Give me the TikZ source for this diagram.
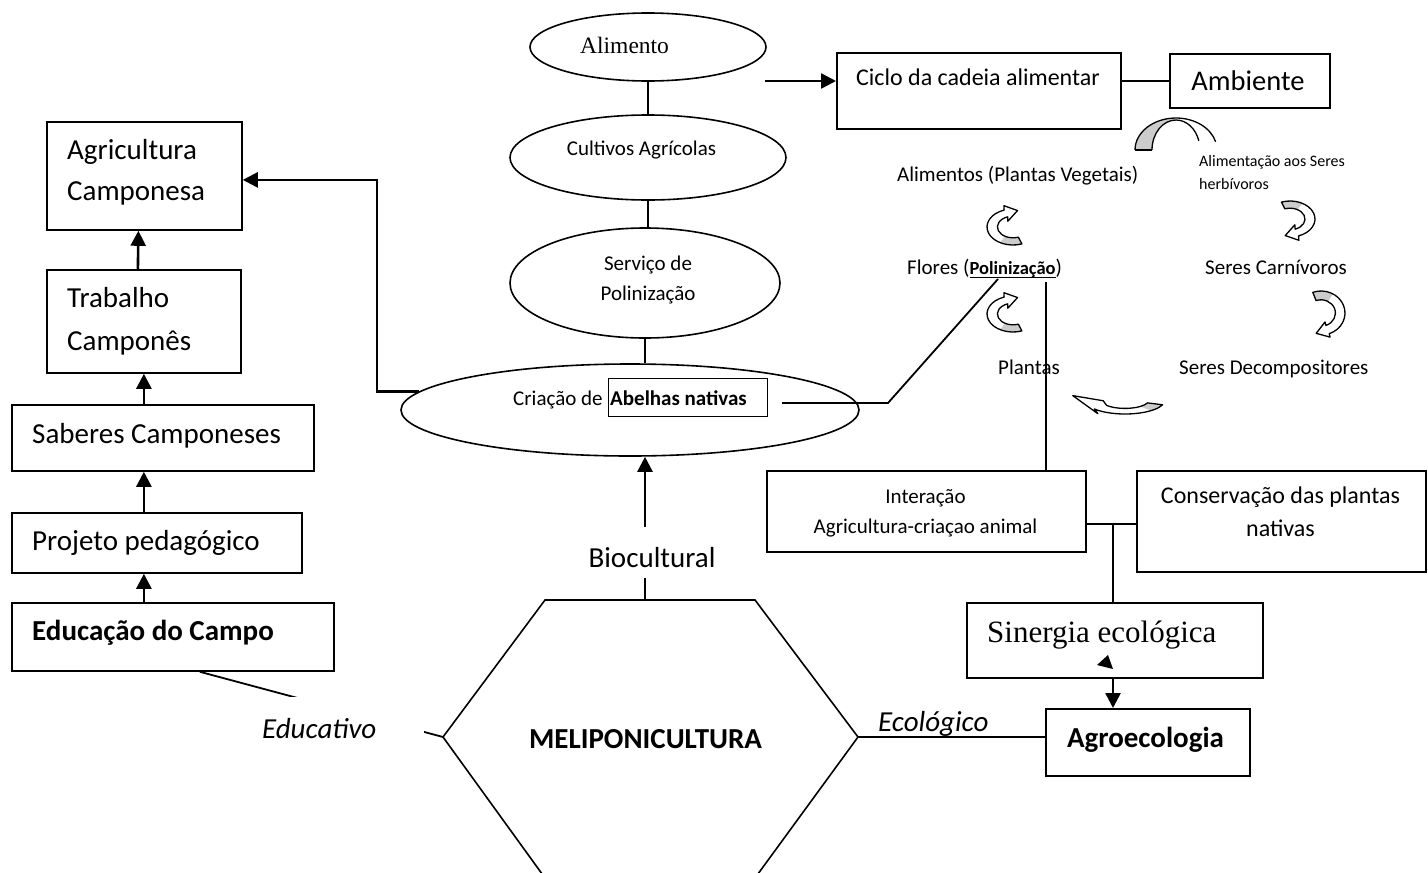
\documentclass[tikz,border=0pt]{standalone}
\usepackage{fontspec}
\setmainfont{Carlito}
\newfontfamily\tnr{Liberation Serif}
\usetikzlibrary{arrows.meta,shapes.geometric,calc}
\newcommand\fsz[2]{\fontsize{#1}{#2}\selectfont}
\newcommand\ulbox[1]{\setbox0\hbox{#1}\rlap{\rule[-4pt]{\wd0}{1.2pt}}\box0}
\colorlet{bandgray}{gray!40}
% curved ribbon arrow: cx cy rx ry a0 a1 grayEnd headLength headHalfWidth
\newcommand\curvarr[9]{%
 \pgfmathsetmacro\cvcA{cos(#6)}%
 \pgfmathsetmacro\cvsA{sin(#6)}%
 \pgfmathsetmacro\cvirx{0.6*#3}%
 \pgfmathsetmacro\cviry{0.6*#4}%
 \pgfmathsetmacro\cvtx{-#3*(\cvsA)}%
 \pgfmathsetmacro\cvty{#4*(\cvcA)}%
 \pgfmathsetmacro\cvtn{sqrt((\cvtx)*(\cvtx)+(\cvty)*(\cvty))}%
 \pgfmathsetmacro\cvnx{#4*(\cvcA)}%
 \pgfmathsetmacro\cvny{#3*(\cvsA)}%
 \pgfmathsetmacro\cvnn{sqrt((\cvnx)*(\cvnx)+(\cvny)*(\cvny))}%
 \pgfmathsetmacro\cvMx{#1+0.8*#3*(\cvcA)}%
 \pgfmathsetmacro\cvMy{#2+0.8*#4*(\cvsA)}%
 \pgfmathsetmacro\cvOx{\cvMx+#9*(\cvnx)/\cvnn}%
 \pgfmathsetmacro\cvOy{\cvMy+#9*(\cvny)/\cvnn}%
 \pgfmathsetmacro\cvIx{\cvMx-#9*(\cvnx)/\cvnn}%
 \pgfmathsetmacro\cvIy{\cvMy-#9*(\cvny)/\cvnn}%
 \pgfmathsetmacro\cvTx{\cvMx+#8*(\cvtx)/\cvtn}%
 \pgfmathsetmacro\cvTy{\cvMy+#8*(\cvty)/\cvtn}%
 \def\cvoutline{({#1+#3*cos(#5)},{#2+#4*sin(#5)}) arc[start angle=#5,end angle=#6,x radius=#3,y radius=#4] -- (\cvOx,\cvOy) -- (\cvTx,\cvTy) -- (\cvIx,\cvIy) -- ({#1+\cvirx*(\cvcA)},{#2+\cviry*(\cvsA)}) arc[start angle=#6,end angle=#5,x radius=\cvirx,y radius=\cviry] -- cycle}%
 \fill[white] \cvoutline;
 \fill[bandgray] ({#1+#3*cos(#5)},{#2+#4*sin(#5)}) arc[start angle=#5,end angle=#7,x radius=#3,y radius=#4] -- ({#1+\cvirx*cos(#7)},{#2+\cviry*sin(#7)}) arc[start angle=#7,end angle=#5,x radius=\cvirx,y radius=\cviry] -- cycle;
 \draw[line width=1.3pt,line join=round] \cvoutline;
}
\tikzset{
 box/.style={draw, line width=1.8pt, inner sep=0pt, anchor=north west},
 ell/.style={draw, ellipse, line width=1.6pt, inner sep=0pt},
 txt/.style={inner sep=0pt},
 conn/.style={line width=1.8pt},
 arr/.style={line width=2.6pt, -{Triangle[width=15pt,length=15pt]}},
}
\begin{document}
\begin{tikzpicture}[x=1pt,y=-1pt]
\useasboundingbox (0,0) rectangle (1428,873);

% ---------- left column ----------
\node[box, minimum width=195, minimum height=108] (agri) at (46,121) {};
\node[box, minimum width=194, minimum height=103] (trab) at (46,269) {};
\node[box, minimum width=302, minimum height=66] (saber) at (11,404) {};
\node[box, minimum width=290, minimum height=60] (proj) at (11,512) {};
\node[box, minimum width=322, minimum height=68] (educ) at (11,602) {};

\node[txt, anchor=north west, align=left, font=\fsz{29}{41}] (tagri) at (67,130.3) {\strut Agricultura\\\strut Camponesa};
\node[txt, anchor=north west, align=left, font=\fsz{29}{43}] (ttrab) at (67,276.9) {\strut Trabalho\\\strut Camponês};
\node[txt, anchor=base west, font=\fsz{29}{35}] (tsaber) at (32,443) {Saberes Camponeses};
\node[txt, anchor=base west, font=\fsz{29}{35}] (tproj) at (32,550) {Projeto pedagógico};
\node[txt, anchor=base west, font=\bfseries\fsz{29}{35}] (teduc) at (32,640) {Educação do Campo};

\draw[arr] ([xshift=-6pt]trab.north) -- ([xshift=-6pt]agri.south);
\draw[arr] (trab.south |- saber.north) -- (trab.south);
\draw[arr] (trab.south |- proj.north) -- (trab.south |- saber.south);
\draw[arr] (trab.south |- educ.north) -- (trab.south |- proj.south);

% ---------- centre column ----------
\node[ell, minimum width=236, minimum height=68] (alim) at (648,47) {};
\node[ell, minimum width=276, minimum height=85] (cult) at (648,157.5) {};
\node[ell, minimum width=270, minimum height=110] (serv) at (645,283) {};
\node[ell, minimum width=458, minimum height=92] (crea) at (630,410) {};

\node[txt, anchor=base west, font=\tnr\fsz{23.5}{28}] (talim) at (580,53) {Alimento};
\node[txt, anchor=base, font=\fsz{21}{25}] (tcult) at (641.5,155) {Cultivos Agrícolas};
\node[txt, anchor=north, align=center, font=\fsz{21}{30}] (tserv) at (648,249.7) {\strut Serviço de\\\strut Polinização};
\node[txt, anchor=base west, font=\fsz{21}{25}] (tcrea) at (513,405) {Criação de};
\node[box, line width=1.4pt, minimum width=159, minimum height=38] (abel) at (608,378) {};
\node[txt, anchor=base west, font=\bfseries\fsz{21}{25}] (tabel) at (610,405) {Abelhas nativas};

\draw[conn] (alim.south) -- (alim.south |- cult.north);
\draw[conn] (cult.south) -- (cult.south |- serv.north);
\draw[conn] (serv.south) -- (serv.south |- crea.north);

\draw[arr] (crea.175.6) -- ++(-42,0) |- ([yshift=-4pt]agri.east);

% ---------- hexagon ----------
\coordinate (hexL) at (443,737);
\coordinate (hexR) at (858,737);
\coordinate (hexT) at (645,600);
\draw[line width=1.6pt, line join=miter] (545,878) -- (hexL) -- (545,600) -- (755,600) -- (hexR) -- (755,878);
\node[txt, anchor=base, font=\bfseries\fsz{29}{35}] (meli) at (645.5,748) {MELIPONICULTURA};

\draw[arr] (hexT) -- (hexT |- crea.south);
\node[txt, fill=white, anchor=base, text height=40pt, text depth=11pt, font=\fsz{29}{35}] (tbio) at (652,567) {Biocultural};

\draw[conn] ([xshift=27pt]educ.south) -- (hexL);
\node[txt, fill=white, anchor=base west, text height=41pt, text depth=12pt, font=\itshape\fsz{29}{35}] (tedu) at (262,738) {Educativo\kern48pt};

% ---------- top right ----------
\node[box, minimum width=284, minimum height=76] (ciclo) at (836,52) {};
\node[box, minimum width=160, minimum height=54] (amb) at (1169,53) {};
\node[txt, anchor=base, font=\fsz{24}{29}] (tciclo) at (978,85) {Ciclo da cadeia alimentar};
\node[txt, anchor=base, font=\fsz{28.5}{34}] (tamb) at (1248,90) {Ambiente};
\coordinate (aStart) at (765,81);
\draw[arr] (aStart) -- (aStart -| ciclo.west);
\draw[conn] (amb.west) -- (amb.west -| ciclo.east);

% ---------- food cycle ----------
\node[txt, anchor=north west, align=left, font=\fsz{16}{22.5}] (therb) at (1199,151) {\strut Alimentação aos Seres\\\strut herbívoros};
\node[txt, anchor=base west, font=\fsz{21}{25}] (tveg) at (897,181) {Alimentos (Plantas Vegetais)};
\node[txt, anchor=base west, font=\fsz{21}{25}] (flores) at (907,274) {Flores (\ulbox{\bfseries\fsz{18.5}{22}Polinização})};
\node[txt, anchor=base west, font=\fsz{21}{25}] (tplan) at (998,374) {Plantas};
\node[txt, anchor=base west, font=\fsz{21}{25}] (tcarn) at (1205,274) {Seres Carnívoros};
\node[txt, anchor=base west, font=\fsz{21}{25}] (tdeco) at (1179,374) {Seres Decompositores};

% arch ribbon
\fill[bandgray] (1135,150) arc[start angle=180,end angle=268,x radius=41,y radius=32] -- (1175.2,120) arc[start angle=268,end angle=180,x radius=24,y radius=30] -- cycle;
\draw[line width=1.3pt] (1135,150) arc[start angle=180,end angle=345,x radius=41,y radius=32];
\draw[line width=1.3pt] (1152,150) arc[start angle=180,end angle=342,x radius=24,y radius=30];
\draw[line width=1.3pt] (1135,150) -- (1152,150);

\curvarr{1013}{227}{26}{18}{70}{250}{120}{12}{8}
\curvarr{1013}{314}{26}{18}{70}{250}{120}{12}{8}
\curvarr{1290}{219}{25}{18}{250}{430}{300}{12}{8}
\curvarr{1321}{313}{24}{22}{250}{430}{300}{12}{8}
\curvarr{1125}{400}{40}{14}{20}{140}{50}{30}{7}

% ---------- right boxes ----------
\node[box, minimum width=319, minimum height=81] (inter) at (766,470) {};
\node[box, minimum width=289, minimum height=101] (cons) at (1136,470) {};
\node[box, minimum width=296, minimum height=75] (siner) at (966,602) {};
\node[box, minimum width=204, minimum height=67] (agro) at (1045,708) {};

\node[txt, anchor=north, align=center, font=\fsz{21}{30}] (tinter) at (925.5,482.3) {\strut Interação\\\strut Agricultura-criaçao animal};
\node[txt, anchor=north, align=center, font=\fsz{24}{33.7}] (tcons) at (1280.5,479.4) {\strut Conservação das plantas\\\strut nativas};
\node[txt, anchor=base west, font=\tnr\fsz{31}{37}] (tsiner) at (987,642) {Sinergia ecológica};
\node[txt, anchor=base, font=\bfseries\fsz{29}{35}] (tagro) at (1145.5,747) {Agroecologia};

\coordinate (abR) at (782,403);
\coordinate (pU) at ([shift={(91,5)}]flores.base west);
\coordinate (pV) at ([shift={(139,8)}]flores.base west);
\draw[conn] (abR) -- ++(106,0) -- (pU);
\draw[conn, line width=2.4pt] (pV) -- (pV |- inter.north);

\coordinate (jn) at (1113,524);
\draw[conn] (jn -| inter.east) -- (jn -| cons.west);
\draw[conn, line width=2.4pt] (jn) -- (jn |- siner.north);
\draw[arr] (jn |- siner.south) -- (jn |- agro.north);
\fill (1097,665) -- (1108,655) -- (1113,669) -- cycle;

\draw[conn] (hexR) -- (hexR -| agro.west);
\node[txt, anchor=base west, font=\itshape\fsz{29}{35}] (teco) at (878,731) {Ecológico};
\end{tikzpicture}
\end{document}
